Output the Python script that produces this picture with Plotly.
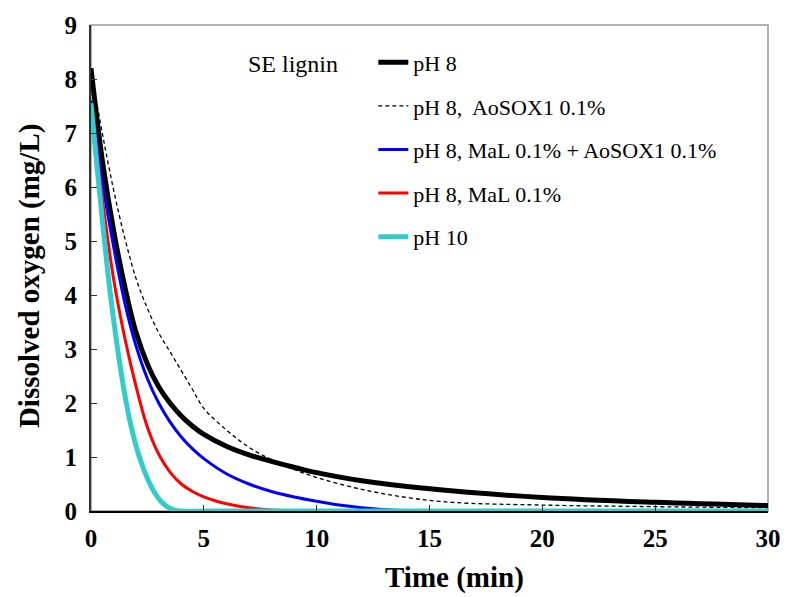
import plotly.graph_objects as go

# ---- data ----
t_ph8 = [0, 0.5, 1, 1.5, 2, 2.5, 3, 3.5, 4, 4.5, 5, 6, 7, 8, 10, 12, 15, 20, 25, 30]
v_ph8 = [8.2, 6.5, 5.2, 4.15, 3.3, 2.72, 2.3, 2.0, 1.76, 1.57, 1.42, 1.2, 1.04, 0.92, 0.71, 0.56, 0.41, 0.25, 0.16, 0.1]

t_sox = [0, 0.5, 1, 1.5, 2, 2.5, 3, 3.5, 4, 4.5, 5, 6, 7, 8, 9, 10, 12, 14, 16, 20, 25, 30]
v_sox = [8.15, 7.0, 5.95, 5.05, 4.3, 3.75, 3.3, 2.95, 2.6, 2.25, 1.9, 1.5, 1.18, 0.95, 0.77, 0.62, 0.4, 0.25, 0.16, 0.11, 0.08, 0.06]

t_mal_sox = [0, 0.5, 1, 1.5, 2, 2.5, 3, 3.5, 4, 4.5, 5, 6, 7, 8, 9, 10, 11, 12, 13, 14, 20, 30]
v_mal_sox = [7.6, 6.1, 4.9, 3.85, 3.05, 2.45, 2.0, 1.65, 1.37, 1.15, 0.97, 0.69, 0.5, 0.36, 0.26, 0.18, 0.11, 0.06, 0.025, 0.005, 0.0, 0.0]

t_mal = [0, 0.5, 1, 1.5, 2, 2.5, 3, 3.5, 4, 4.5, 5, 5.5, 6, 7, 8, 9, 12, 20, 30]
v_mal = [7.55, 5.8, 4.3, 3.2, 2.3, 1.55, 1.05, 0.72, 0.5, 0.36, 0.26, 0.19, 0.135, 0.06, 0.02, 0.005, 0.0, 0.0, 0.0]

t_ph10 = [0, 0.25, 0.5, 0.75, 1, 1.25, 1.5, 1.75, 2, 2.25, 2.5, 2.75, 3, 3.25, 3.5, 3.75, 4, 6, 10, 20, 30]
v_ph10 = [7.55, 6.45, 5.4, 4.4, 3.55, 2.8, 2.15, 1.62, 1.2, 0.87, 0.6, 0.39, 0.23, 0.12, 0.05, 0.01, 0.0, 0.0, 0.0, 0.0, 0.0]

names = ["pH 8", "pH 8,  AoSOX1 0.1%", "pH 8, MaL 0.1% + AoSOX1 0.1%", "pH 8, MaL 0.1%", "pH 10"]
x_ticks = [0, 5, 10, 15, 20, 25, 30]
y_ticks = [0, 1, 2, 3, 4, 5, 6, 7, 8, 9]

FONT = "Liberation Serif, Times New Roman, serif"

fig = go.Figure()
series = [
    (t_ph8, v_ph8, "black", 5, "solid"),
    (t_sox, v_sox, "black", 1.3, "4px,3px"),
    (t_mal_sox, v_mal_sox, "#0000FF", 3, "solid"),
    (t_mal, v_mal, "#FF0000", 3, "solid"),
    (t_ph10, v_ph10, "#33CCCC", 5, "solid"),
]
for i, (tx, vy, col, w, dash) in enumerate(series):
    fig.add_trace(go.Scatter(
        x=tx, y=vy, mode="lines", name=names[i], legendgroup=f"g{i}",
        line=dict(color=col, width=w, dash=dash, shape="spline", smoothing=1.0),
    ))

fig.update_layout(
    width=793, height=597,
    margin=dict(l=91, r=13, t=25, b=86),
    plot_bgcolor="white", paper_bgcolor="white",
    font=dict(family=FONT, color="black"),
    showlegend=True,
    legend=dict(
        x=0.417, xanchor="left", y=0.966, yanchor="top",
        bgcolor="rgba(0,0,0,0)", font=dict(size=22, family=FONT),
        tracegroupgap=12, traceorder="grouped",
    ),
    shapes=[dict(type="rect", xref="paper", yref="paper", x0=0, y0=0, x1=1, y1=1,
                 line=dict(color="#999999", width=1.5), layer="below")],
    annotations=[
        dict(text="SE lignin", xref="paper", yref="paper",
             x=(344 - 91) / 689, y=(511 - 64) / 486, xanchor="right", yanchor="middle",
             showarrow=False, font=dict(size=24, family=FONT)),
        dict(text="<b>Time (min)</b>", xref="paper", yref="paper",
             x=(461 - 91) / 689, y=(511 - 577) / 486, xanchor="center", yanchor="middle",
             showarrow=False, font=dict(size=29, family=FONT)),
        dict(text="<b>Dissolved oxygen (mg/L)</b>", xref="paper", yref="paper",
             x=(28 - 91) / 689, y=(511 - 276) / 486, xanchor="center", yanchor="middle",
             textangle=-90, showarrow=False, font=dict(size=29, family=FONT)),
    ],
)

fig.update_xaxes(
    range=[0, 30], tickvals=x_ticks, ticktext=[str(v) for v in x_ticks],
    ticks="inside", ticklen=6, tickcolor="#333", tickwidth=1,
    showline=True, linecolor="black", linewidth=2, showgrid=False, zeroline=False,
    tickfont=dict(size=25, family=FONT, weight="bold"),
    ticklabelstandoff=4,
)
fig.update_yaxes(
    range=[0, 9], tickvals=y_ticks, ticktext=[str(v) for v in y_ticks],
    ticks="inside", ticklen=6, tickcolor="#333", tickwidth=1,
    showline=True, linecolor="#333", linewidth=2, showgrid=False, zeroline=False,
    tickfont=dict(size=25, family=FONT, weight="bold"),
    ticklabelstandoff=7,
)

fig.write_html("out.html")
